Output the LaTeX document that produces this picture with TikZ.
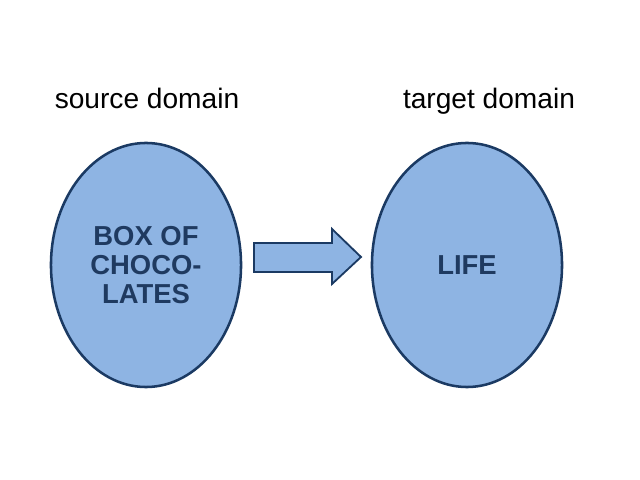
\documentclass[tikz,border=0pt]{standalone}
\usepackage{fontspec}
\setmainfont{Liberation Sans}
\usetikzlibrary{shapes.geometric,positioning,calc}
\definecolor{domainfill}{HTML}{8EB4E3}
\definecolor{domainline}{HTML}{1B3A63}
\definecolor{domaintext}{HTML}{1F3A60}

\tikzset{
  domainbox/.style={ellipse, draw=domainline, line width=1.8pt, fill=domainfill,
    minimum width=4.75cm, minimum height=6.1cm, inner sep=0pt, align=center,
    text=domaintext, font=\fontsize{19.5}{20.6}\selectfont\bfseries},
  domainname/.style={anchor=base, font=\fontsize{20}{24}\selectfont}
}

\begin{document}
\begin{tikzpicture}[x=0.025cm,y=0.025cm]
    \useasboundingbox (0,0) rectangle (640,480); % page frame
    \node[domainbox] (source) at (146,215) {BOX OF\\CHOCO-\\LATES};
    \node[domainbox] (target) at (467,215) {LIFE};
    \node[domainname] (sourcename) at (147,371) {source domain};
    \node[domainname] (targetname) at (489,371) {target domain};
    % block arrow between the domains
    \draw[draw=domainline, line width=1.3pt, fill=domainfill, line join=miter]
        (254,237) -- (332,237) -- (332,251) -- (361,223) -- (332,196)
        -- (332,208) -- (254,208) -- cycle;
\end{tikzpicture}
\end{document}
